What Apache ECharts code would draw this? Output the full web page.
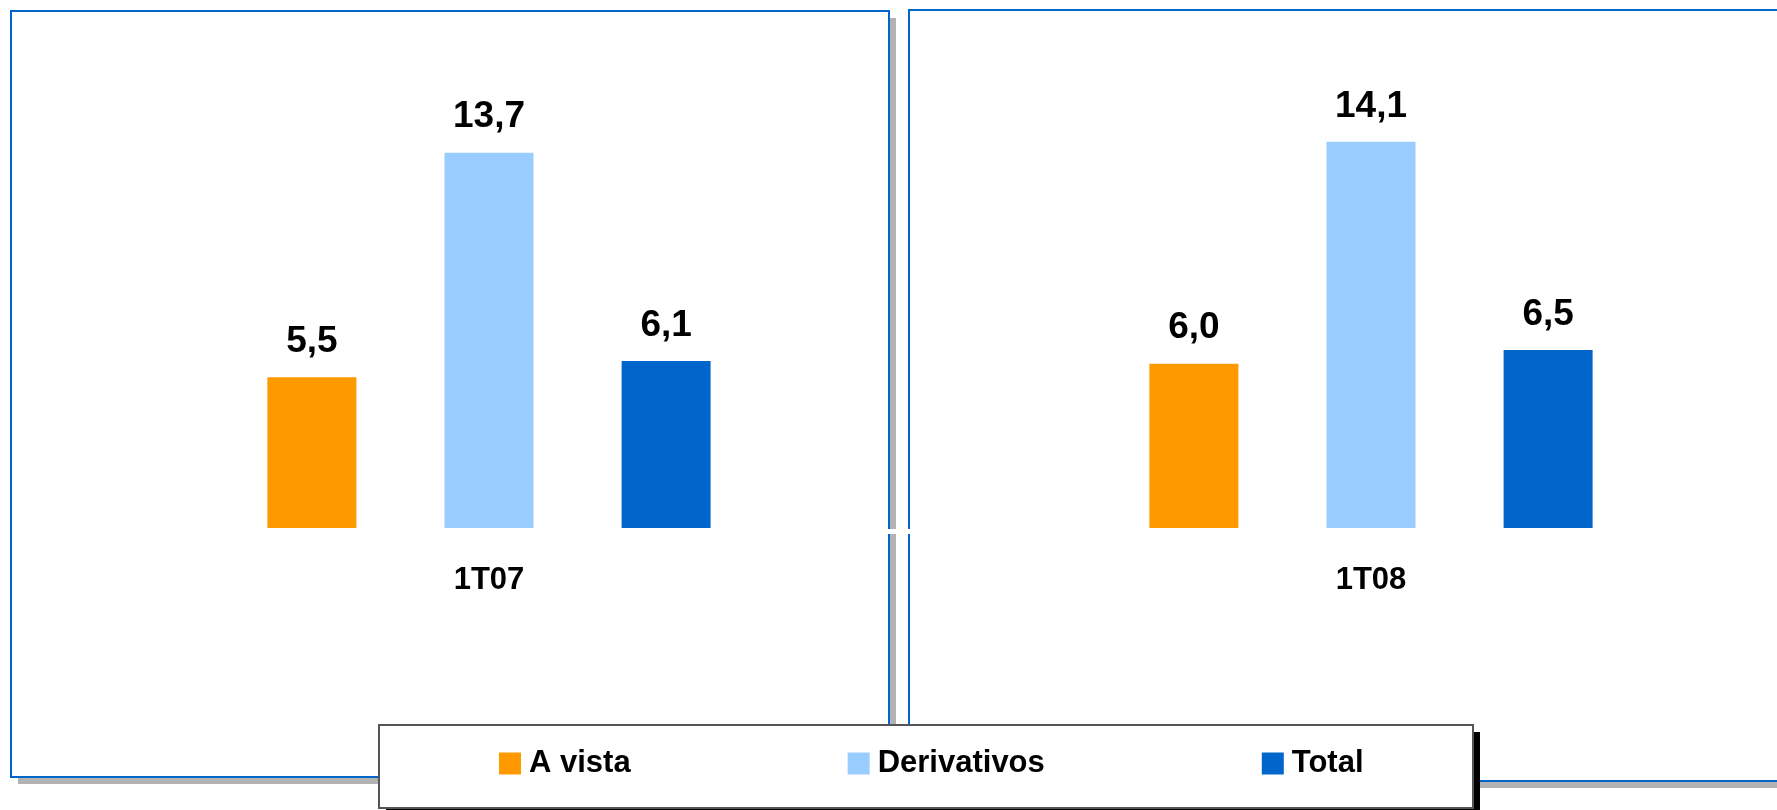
<!DOCTYPE html>
<html>
<head>
<meta charset="utf-8">
<script src="https://cdn.jsdelivr.net/npm/echarts@6/dist/echarts.min.js"></script>
<style>
  html, body { margin: 0; padding: 0; background: #fff; }
  #chart { width: 1777px; height: 810px; }
</style>
</head>
<body>
<div id="chart"></div>
<script>
const periods = ["1T07", "1T08"];
const seriesNames = ["A vista", "Derivativos", "Total"];
const aVista = [5.5, 6.0];
const derivativos = [13.7, 14.1];
const total = [6.1, 6.5];
const colors = ["#FF9900", "#99CCFF", "#0066CC"];

const myChart = echarts.init(document.getElementById("chart"));
const font = "Liberation Sans, Arial, sans-serif";
const values = [aVista, derivativos, total];

// one grid per panel, centred on each panel's bar group
const grids = [
  { left: 89, width: 800, top: 35, bottom: 282 },
  { left: 971, width: 800, top: 35, bottom: 282 },
];

let xAxis = periods.map((p, i) => ({
  type: "category",
  gridIndex: i,
  data: [p],
  axisLine: { show: false },
  axisTick: { show: false },
  axisLabel: {
    color: "#000",
    fontFamily: font,
    fontWeight: "bold",
    fontSize: 31,
    margin: 37,
  },
}));

let yAxis = periods.map((p, i) => ({
  type: "value",
  gridIndex: i,
  min: 0,
  max: 18,
  show: false,
  splitLine: { show: false },
}));

let series = [];
periods.forEach((p, i) => {
  seriesNames.forEach((name, k) => {
    series.push({
      name,
      type: "bar",
      xAxisIndex: i,
      yAxisIndex: i,
      data: [values[k][i]],
      barWidth: 89,
      barGap: "99%",
      itemStyle: { color: colors[k] },
      label: {
        show: true,
        position: "top",
        distance: 17,
        color: "#000",
        fontFamily: font,
        fontWeight: "bold",
        fontSize: 37,
        formatter: (d) => d.value.toFixed(1).replace(".", ","),
      },
    });
  });
});

const graphic = [
  // panel shadows
  { type: "rect", z: 0, shape: { x: 18, y: 18, width: 878, height: 766 }, style: { fill: "#b3b3b3" } },
  { type: "rect", z: 0, shape: { x: 916, y: 17, width: 900, height: 771 }, style: { fill: "#b3b3b3" } },
  // panels
  { type: "rect", z: 0, shape: { x: 11, y: 11, width: 878, height: 766 }, style: { fill: "#fff", stroke: "#0066CC", lineWidth: 2 } },
  { type: "rect", z: 0, shape: { x: 909, y: 10, width: 900, height: 771 }, style: { fill: "#fff", stroke: "#0066CC", lineWidth: 2 } },
  // small break in the borders
  { type: "rect", z: 0, shape: { x: 886, y: 529, width: 26, height: 5 }, style: { fill: "#fff" } },
  // legend box
  { type: "rect", z: 1, shape: { x: 386, y: 732, width: 1094, height: 100 }, style: { fill: "#000" } },
  { type: "rect", z: 1, shape: { x: 379, y: 725, width: 1094, height: 83 }, style: { fill: "#fff", stroke: "#555", lineWidth: 2 } },
];

let option = {
  animation: false,
  backgroundColor: "#fff",
  grid: grids,
  legend: {
    data: seriesNames,
    left: 494,
    top: 743,
    itemWidth: 22,
    itemHeight: 22,
    itemGap: 217,
    icon: "rect",
    z: 5,
    textStyle: {
      color: "#000",
      fontFamily: font,
      fontWeight: "bold",
      fontSize: 31,
      padding: [0, 0, 0, 3],
    },
  },
  graphic,
  xAxis,
  yAxis,
  series,
};
myChart.setOption(option, true);
</script>
</body>
</html>
